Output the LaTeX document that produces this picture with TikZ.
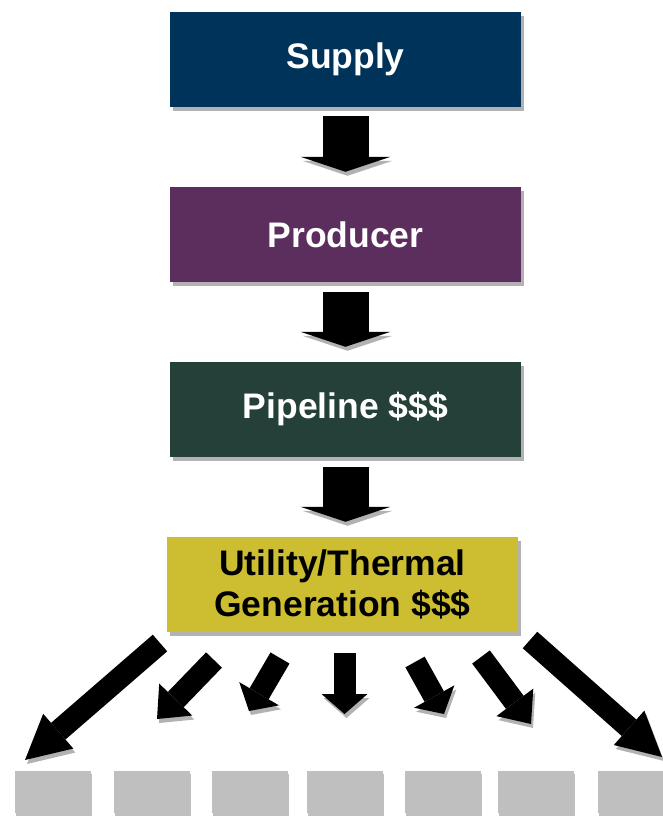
\documentclass[tikz,border=0pt]{standalone}
\usepackage{fontspec}
\setmainfont{Liberation Sans}
\usetikzlibrary{arrows.meta, shadows}

\definecolor{supplyblue}{RGB}{0,51,89}
\definecolor{producerpurple}{RGB}{91,46,94}
\definecolor{pipelinegreen}{RGB}{37,64,56}
\definecolor{utilityyellow}{RGB}{205,190,49}
\definecolor{sinkgray}{RGB}{191,191,191}

\begin{document}
\begin{tikzpicture}[x=1pt, y=-1pt,
  box/.style={minimum width=351pt, minimum height=95pt, inner sep=0pt, align=center,
    font=\fontsize{35.5}{41}\selectfont\bfseries, text=white,
    drop shadow={shadow xshift=3pt, shadow yshift=-4pt, fill=black, opacity=0.3}},
  sink/.style={fill=sinkgray, minimum width=76pt, minimum height=42pt, inner sep=0pt,
    drop shadow={shadow xshift=1pt, shadow yshift=-3pt, fill=black, opacity=0.25}},
  arrowshadow/.style={preaction={draw=black!30, transform canvas={xshift=2pt, yshift=-4pt}}},
  downarrow/.style={line width=46pt, arrowshadow,
    -{Triangle[width=90pt, length=15pt, line width=0pt 0 0]}},
  fanarrow/.style={line width=22pt, arrowshadow,
    -{Triangle[width=46pt, length=#1, line width=0pt 0 0]}}]
  \useasboundingbox (0,0) rectangle (663,819);
  % chain of boxes
  \node[box, fill=supplyblue] (supply) at (345.5,59) {Supply};
  \node[box, fill=producerpurple] (producer) at (345.5,234.5) {Producer};
  \node[box, fill=pipelinegreen] (pipeline) at (345.5,409.5) {Pipeline \$\$\$};
  \node[box, fill=utilityyellow, text=black] (utility) at (342.5,584.5) {Utility/Thermal\\Generation \$\$\$};
  % arrows between boxes
  \draw[downarrow, shorten <=9.5pt, shorten >=15pt] (supply.south) -- (producer.north);
  \draw[downarrow, shorten <=9.5pt, shorten >=15pt] (producer.south) -- (pipeline.north);
  \draw[downarrow, shorten <=9.5pt, shorten >=15pt] (pipeline.south) -- (pipeline.south |- utility.north);
  % customers
  \foreach \x [count=\i] in {15,114,212,307,405,498,598}
    \node[sink, anchor=north west] (sink\i) at (\x,771) {};
  % fan-out arrows
  \foreach \tx/\ty/\hx/\hy/\len [count=\i] in {160/643/25/760/44pt, 214/660/157/719/27pt,
      280/658/249/711/20pt, 344.5/653/344.5/714/20pt, 415/662/444/714/20pt,
      481/657/531/724/27pt, 530/640/662/757/44pt} {
    \coordinate (tail\i) at (\tx,\ty);
    \coordinate (tip\i) at (\hx,\hy);
    \draw[fanarrow=\len] (tail\i) -- (tip\i);
  }
\end{tikzpicture}
\end{document}
